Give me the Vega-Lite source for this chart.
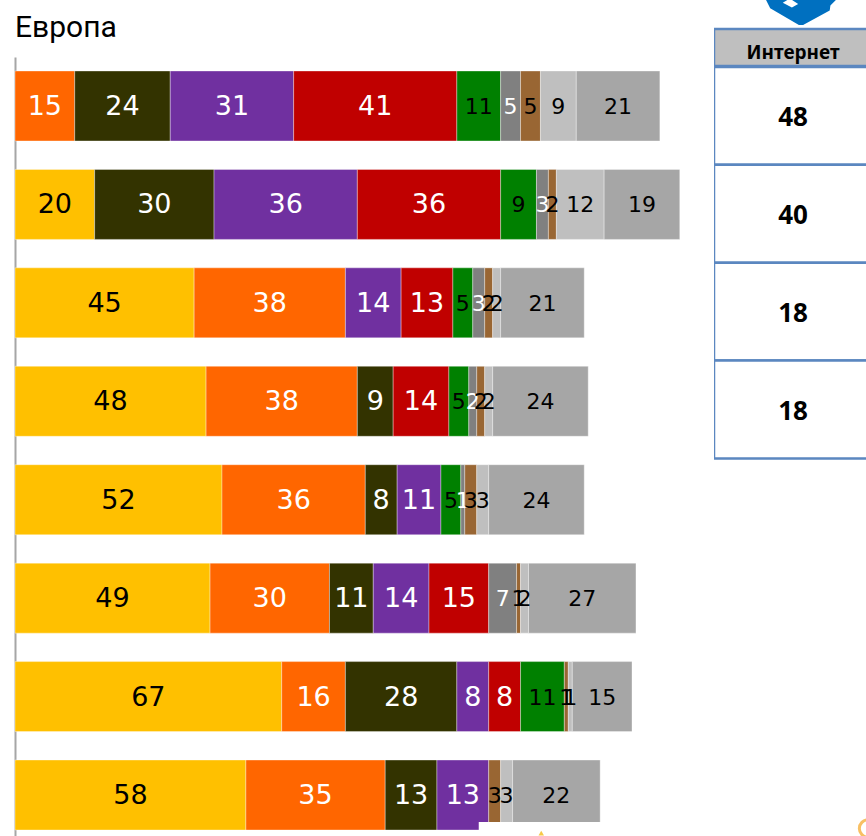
{
"$schema":"https://vega.github.io/schema/vega-lite/v6.json",
"padding":{"left":14,"top":0,"right":0,"bottom":0},
"background":"white",
"spacing":0,
"config":{"view":{"stroke":null}},
"datasets":{
"bars":[
{"row":1,"seg":"B","value":15},{"row":1,"seg":"C","value":24},{"row":1,"seg":"D","value":31},{"row":1,"seg":"E","value":41},{"row":1,"seg":"F","value":11},{"row":1,"seg":"G","value":5},{"row":1,"seg":"H","value":5},{"row":1,"seg":"I","value":9},{"row":1,"seg":"J","value":21},
{"row":2,"seg":"A","value":20},{"row":2,"seg":"C","value":30},{"row":2,"seg":"D","value":36},{"row":2,"seg":"E","value":36},{"row":2,"seg":"F","value":9},{"row":2,"seg":"G","value":3},{"row":2,"seg":"H","value":2},{"row":2,"seg":"I","value":12},{"row":2,"seg":"J","value":19},
{"row":3,"seg":"A","value":45},{"row":3,"seg":"B","value":38},{"row":3,"seg":"D","value":14},{"row":3,"seg":"E","value":13},{"row":3,"seg":"F","value":5},{"row":3,"seg":"G","value":3},{"row":3,"seg":"H","value":2},{"row":3,"seg":"I","value":2},{"row":3,"seg":"J","value":21},
{"row":4,"seg":"A","value":48},{"row":4,"seg":"B","value":38},{"row":4,"seg":"C","value":9},{"row":4,"seg":"E","value":14},{"row":4,"seg":"F","value":5},{"row":4,"seg":"G","value":2},{"row":4,"seg":"H","value":2},{"row":4,"seg":"I","value":2},{"row":4,"seg":"J","value":24},
{"row":5,"seg":"A","value":52},{"row":5,"seg":"B","value":36},{"row":5,"seg":"C","value":8},{"row":5,"seg":"D","value":11},{"row":5,"seg":"F","value":5},{"row":5,"seg":"G","value":1},{"row":5,"seg":"H","value":3},{"row":5,"seg":"I","value":3},{"row":5,"seg":"J","value":24},
{"row":6,"seg":"A","value":49},{"row":6,"seg":"B","value":30},{"row":6,"seg":"C","value":11},{"row":6,"seg":"D","value":14},{"row":6,"seg":"E","value":15},{"row":6,"seg":"G","value":7},{"row":6,"seg":"H","value":1},{"row":6,"seg":"I","value":2},{"row":6,"seg":"J","value":27},
{"row":7,"seg":"A","value":67},{"row":7,"seg":"B","value":16},{"row":7,"seg":"C","value":28},{"row":7,"seg":"D","value":8},{"row":7,"seg":"E","value":8},{"row":7,"seg":"F","value":11},{"row":7,"seg":"H","value":1},{"row":7,"seg":"I","value":1},{"row":7,"seg":"J","value":15},
{"row":8,"seg":"A","value":58},{"row":8,"seg":"B","value":35},{"row":8,"seg":"C","value":13},{"row":8,"seg":"D","value":13},{"row":8,"seg":"H","value":3},{"row":8,"seg":"I","value":3},{"row":8,"seg":"J","value":22}
],
"table":[
{"col":"Интернет","row":"a","value":48},{"col":"Интернет","row":"b","value":40},{"col":"Интернет","row":"c","value":18},{"col":"Интернет","row":"d","value":18}
],
"head":[{"col":"Интернет","row":"h","label":"Интернет"}]
},
"hconcat":[
{
"width":699,"height":836,
"title":{"text":"Европа","anchor":"start","frame":"group","font":"Roboto","fontSize":30,"fontWeight":"normal","color":"#000000","baseline":"alphabetic","offset":-67},
"layer":[
{"data":{"name":"bars"},
"mark":{"type":"bar","stroke":"#ffffff","strokeOpacity":0.35,"strokeWidth":1},
"encoding":{
"y":{"field":"row","type":"ordinal","scale":{"domain":[1,2,3,4,5,6,7,8],"range":[57,836],"paddingInner":0.289,"paddingOuter":0.1015,"align":0.7},
"axis":{"title":null,"labels":false,"ticks":false,"domainColor":"#a6a6a6","domainWidth":2}},
"x":{"field":"value","type":"quantitative","stack":"zero","scale":{"domain":[0,175.6],"nice":false},"axis":null},
"order":{"field":"seg"},
"color":{"field":"seg","type":"nominal","legend":null,"scale":{"domain":["A","B","C","D","E","F","G","H","I","J"],"range":["#ffc000","#ff6600","#333300","#7030a0","#c00000","#008000","#808080","#996633","#bfbfbf","#a6a6a6"]}}
}},
{"data":{"values":[{"row":8,"start":116.5,"end":150}]},
"mark":{"type":"bar","color":"white","height":9,"yOffset":31.5},
"encoding":{
"y":{"field":"row","type":"ordinal"},
"x":{"field":"start","type":"quantitative"},
"x2":{"field":"end"}
}},
{"data":{"values":[{"row":8,"at":132.2}]},
"mark":{"type":"point","shape":"triangle-up","filled":true,"clip":true,"fill":"#f7c948","fillOpacity":1,"strokeWidth":0,"size":30,"yOffset":38},
"encoding":{
"y":{"field":"row","type":"ordinal"},
"x":{"field":"at","type":"quantitative"}
}},
{"data":{"name":"bars"},
"mark":{"type":"text","font":"DejaVu Sans","baseline":"middle","align":"center","yOffset":1},
"encoding":{
"y":{"field":"row","type":"ordinal"},
"x":{"field":"value","type":"quantitative","stack":"zero","bandPosition":0.5},
"order":{"field":"seg"},
"text":{"field":"value","type":"quantitative"},
"detail":{"field":"seg"},
"size":{"field":"seg","type":"nominal","legend":null,"scale":{"type":"ordinal","domain":["A","B","C","D","E","F","G","H","I","J"],"range":[27,27,27,27,27,22,22,22,22,22]}},
"color":{"field":"seg","type":"nominal","legend":null,"scale":{"domain":["A","B","C","D","E","F","G","H","I","J"],"range":["#000000","#ffffff","#ffffff","#ffffff","#ffffff","#000000","#ffffff","#000000","#000000","#000000"]}}
}}
],
"resolve":{"scale":{"color":"independent"}}
},
{
"width":152,"height":836,
"layer":[
{"data":{"name":"table"},
"mark":{"type":"bar","height":97.8,"fill":"white","stroke":"#5b87c0","strokeWidth":2.5,"clip":true},
"encoding":{
"x":{"field":"col","type":"nominal","axis":null,"scale":{"range":[0,158],"paddingInner":0,"paddingOuter":0}},
"y":{"field":"row","type":"ordinal","axis":null,"scale":{"type":"point","domain":["h","a","b","c","d"],"range":[18,409.5],"padding":0}}
}},
{"data":{"name":"head"},
"mark":{"type":"bar","height":37,"yOffset":29.5,"fill":"#bfbfbf","stroke":"#5b87c0","strokeWidth":2.5,"clip":true},
"encoding":{
"x":{"field":"col","type":"nominal"},
"y":{"field":"row","type":"ordinal"}
}},
{"data":{"name":"head"},
"mark":{"type":"text","font":"Noto Sans","fontWeight":"bold","fontSize":19,"color":"#000000","yOffset":34.5,"baseline":"middle"},
"encoding":{
"x":{"field":"col","type":"nominal"},
"y":{"field":"row","type":"ordinal"},
"text":{"field":"label"}
}},
{"data":{"name":"table"},
"mark":{"type":"text","font":"Noto Sans","fontWeight":"bold","fontSize":26,"color":"#000000","baseline":"middle","yOffset":2},
"encoding":{
"x":{"field":"col","type":"nominal"},
"y":{"field":"row","type":"ordinal"},
"text":{"field":"value","type":"quantitative"}
}},
{"data":{"name":"head"},
"mark":{"type":"point","filled":true,"clip":true,"fill":"#0070c0","fillOpacity":1,"strokeWidth":0,"size":19600,"xOffset":8,"yOffset":-5.5,"shape":"M -0.5 -0.18 L -0.44 -0.06 L -0.03 0.18 L 0.03 0.18 L 0.41 -0.03 L 0.42 -0.1 L 0.5 -0.18 Z"},
"encoding":{
"x":{"field":"col","type":"nominal"},
"y":{"field":"row","type":"ordinal"}
}},
{"data":{"name":"head"},
"mark":{"type":"point","filled":true,"clip":true,"fill":"#ffffff","fillOpacity":1,"strokeWidth":0,"size":19600,"xOffset":8,"yOffset":-5.5,"shape":"M -0.26 -0.14 L -0.16 -0.2 L -0.04 -0.12 L -0.13 -0.07 Z"},
"encoding":{
"x":{"field":"col","type":"nominal"},
"y":{"field":"row","type":"ordinal"}
}},
{"data":{"values":[{"col":"Интернет","row":"d"}]},
"mark":{"type":"point","filled":false,"clip":true,"stroke":"#f6a623","strokeOpacity":1,"strokeWidth":3,"size":300,"xOffset":75,"yOffset":419},
"encoding":{
"x":{"field":"col","type":"nominal"},
"y":{"field":"row","type":"ordinal"}
}}
]
}
]
}
